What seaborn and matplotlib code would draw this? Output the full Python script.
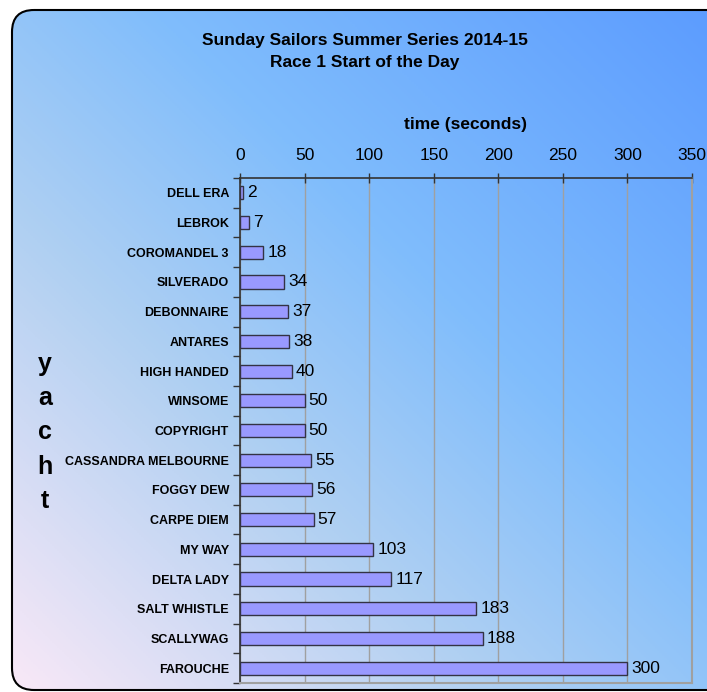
import numpy as np
import pandas as pd
import matplotlib
matplotlib.use('Agg')
import matplotlib.pyplot as plt
import seaborn as sns
from matplotlib.colors import LinearSegmentedColormap
from matplotlib.patches import FancyBboxPatch

# Race results: seconds after start gun
yachts = ["DELL ERA", "LEBROK", "COROMANDEL 3", "SILVERADO", "DEBONNAIRE", "ANTARES",
          "HIGH HANDED", "WINSOME", "COPYRIGHT", "CASSANDRA MELBOURNE", "FOGGY DEW",
          "CARPE DIEM", "MY WAY", "DELTA LADY", "SALT WHISTLE", "SCALLYWAG", "FAROUCHE"]
seconds = [2, 7, 18, 34, 37, 38, 40, 50, 50, 55, 56, 57, 103, 117, 183, 188, 300]
x_ticks = [0, 50, 100, 150, 200, 250, 300, 350]
ylabel_letters = ["y", "a", "c", "h", "t"]

df = pd.DataFrame({"yacht": yachts, "time": seconds})

sns.set_theme(style="white")
plt.rcParams['font.family'] = ['Liberation Sans', 'DejaVu Sans']
plt.rcParams['text.color'] = 'black'
plt.rcParams['xtick.color'] = 'black'
plt.rcParams['ytick.color'] = 'black'
plt.rcParams['axes.labelcolor'] = 'black'

fig = plt.figure(figsize=(7.07, 6.92), dpi=100)
fig.patch.set_facecolor('white')

# gradient background inside a rounded box
bg = fig.add_axes([0, 0, 1, 1], zorder=0)
bg.set_xlim(0, 707)
bg.set_ylim(692, 0)
bg.axis('off')
cmap = LinearSegmentedColormap.from_list(
    'bg', [(0.0, '#FBE9F7'), (0.35, '#B0D0F2'), (0.6, '#80BDFC'), (1.0, '#5C9CFF')])
gx, gy = np.meshgrid(np.linspace(0, 1, 300), np.linspace(0, 1, 300))
grad = (gx + (1 - gy)) / 2
im = bg.imshow(grad, cmap=cmap, extent=[0, 707, 692, 0], aspect='auto', vmin=0, vmax=1)
box = FancyBboxPatch((12, 10), 720, 680, boxstyle="round,pad=0,rounding_size=22",
                     facecolor='none', edgecolor='black', linewidth=1.5)
bg.add_patch(box)
im.set_clip_path(box)

ax = fig.add_axes([240 / 707, 1 - 683 / 692, (692 - 240) / 707, (683 - 178) / 692], zorder=1)
ax.set_facecolor('none')

sns.barplot(data=df, x="time", y="yacht", orient="h", color="#9999FF",
            edgecolor="#333344", linewidth=1, width=0.44, saturation=1, ax=ax, zorder=3)
ax.bar_label(ax.containers[0], padding=3, fontsize=12.5, color='black')

ax.set_xlim(0, 350)
ax.set_xticks(x_ticks)
ax.xaxis.tick_top()
ax.xaxis.set_label_position('top')
ax.tick_params(axis='x', direction='inout', length=7, width=1, color='#333333',
               labelsize=12.5, pad=7, top=True, bottom=False)
ax.set_xlabel("time (seconds)", fontsize=12.5, fontweight='bold', labelpad=14)
ax.grid(axis='x', color='#A0A0A0', linewidth=1, zorder=0)
ax.set_axisbelow(True)

ax.set_ylim(len(yachts) - 0.5, -0.5)
ax.set_ylabel("")
ax.set_yticks(np.arange(-0.5, len(yachts), 1), minor=True)
ax.tick_params(axis='y', which='major', length=0, pad=8, labelsize=9)
ax.tick_params(axis='y', which='minor', left=True, direction='out', length=5,
               width=1, color='#333333')
for lbl in ax.get_yticklabels():
    lbl.set_fontweight('bold')

for side in ['top', 'left']:
    ax.spines[side].set_color('#333333')
    ax.spines[side].set_linewidth(1.2)
for side in ['right', 'bottom']:
    ax.spines[side].set_color('#A0A0A0')
    ax.spines[side].set_linewidth(1.5)

fig.text(365 / 707, 1 - 40 / 692, "Sunday Sailors Summer Series 2014-15",
         ha='center', va='center', fontsize=12.5, fontweight='bold')
fig.text(365 / 707, 1 - 63 / 692, "Race 1 Start of the Day",
         ha='center', va='center', fontsize=12.5, fontweight='bold')

for i, letter in enumerate(ylabel_letters):
    fig.text(45 / 707, 1 - (364 + i * 34.2) / 692, letter, ha='center', va='center',
             fontsize=18, fontweight='bold')

fig.savefig("out.png", dpi=100)
